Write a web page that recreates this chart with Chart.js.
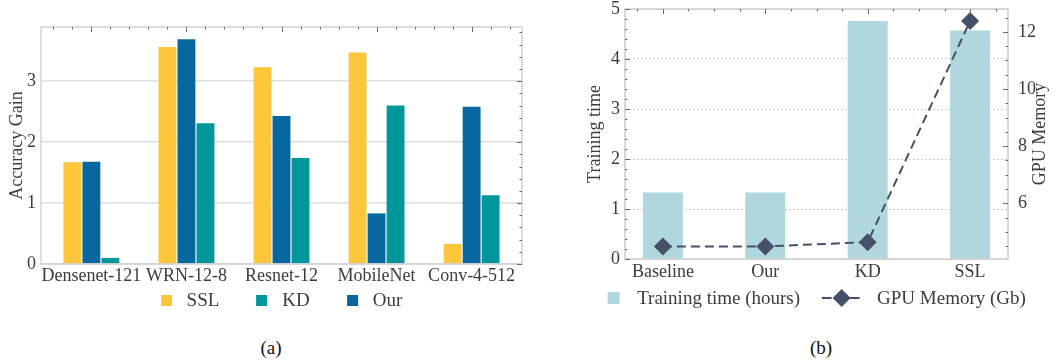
<!DOCTYPE html>
<html>
<head>
<meta charset="utf-8">
<script src="https://cdn.jsdelivr.net/npm/chart.js@4.4.1/dist/chart.umd.min.js"></script>
<style>
  body { margin: 0; background: #fff; width: 1058px; height: 360px; position: relative; overflow: hidden; font-family: "Liberation Serif", serif; }
  .panel { position: absolute; top: 0; height: 325px; }
  #panelA { left: 0; width: 530px; }
  #panelB { left: 530px; width: 528px; }
  .legend { position: absolute; display: flex; align-items: center; white-space: nowrap; transform: translate(-50%, -50%);
            font-size: 19px; line-height: 20px; color: #3c3c3c; }
  .legend .item { display: flex; align-items: center; }
  .legend .box { display: inline-block; }
  .cap { position: absolute; top: 338px; font-size: 19px; line-height: 20px; color: #111; transform: translateX(-50%); }
</style>
</head>
<body>
<div class="panel" id="panelA"><canvas id="accChart"></canvas></div>
<div class="panel" id="panelB"><canvas id="costChart"></canvas></div>
<div class="legend" id="legendA"></div>
<div class="legend" id="legendB"></div>
<div class="cap" style="left:271px">(a)</div>
<div class="cap" style="left:821px">(b)</div>
<script>
// (a) accuracy gain per backbone
const archNames = ["Densenet-121", "WRN-12-8", "Resnet-12", "MobileNet", "Conv-4-512"];
const sslGain = [1.67, 3.56, 3.23, 3.47, 0.33];
const ourGain = [1.68, 3.69, 2.43, 0.83, 2.58];
const kdGain = [0.10, 2.31, 1.74, 2.60, 1.13];
const legendOrderA = ["SSL", "KD", "Our"];

// (b) cost of each method
const methods = ["Baseline", "Our", "KD", "SSL"];
const trainHours = [1.33, 1.33, 4.76, 4.57];
const gpuMemory = [4.49, 4.49, 4.64, 12.38];
const legendOrderB = ["Training time (hours)", "GPU Memory (Gb)"];

Chart.defaults.font.family = "'Liberation Serif', serif";
Chart.defaults.font.size = 18;
Chart.defaults.color = "#3c3c3c";

const asPoints = values => values.map((v, i) => ({ x: i, y: v }));

// light frame round the plot area plus the small mirrored tick marks
const framePlugin = {
    id: "frame",
    afterDraw(chart, args, opts) {
        const { ctx, chartArea: a } = chart;
        ctx.save();
        ctx.strokeStyle = opts.color || "#cfcfcf";
        ctx.lineWidth = 1.5;
        ctx.strokeRect(a.left, a.top, a.right - a.left, a.bottom - a.top);
        ctx.strokeStyle = "#6a6a6a";
        ctx.lineWidth = 1;
        (opts.marks || []).forEach(m => {
            const sc = chart.scales[m.scale];
            for (let i = 0; ; i++) {
                const v = m.from + i * m.step;
                if (v > sc.max + 1e-9) break;
                if (v < sc.min - 1e-9) continue;
                const p = Math.round(sc.getPixelForValue(v)) + 0.5;
                ctx.beginPath();
                if (m.edge === "top") { ctx.moveTo(p, a.top); ctx.lineTo(p, a.top + m.len); }
                if (m.edge === "left") { ctx.moveTo(a.left, p); ctx.lineTo(a.left + m.len, p); }
                if (m.edge === "right") { ctx.moveTo(a.right, p); ctx.lineTo(a.right - m.len, p); }
                ctx.stroke();
            }
        });
        ctx.restore();
    }
};

// right axis title that reads bottom to top, like the left one
const sideTitlePlugin = {
    id: "sideTitle",
    afterDraw(chart, args, opts) {
        if (!opts.text) return;
        const { ctx, chartArea: a } = chart;
        const sc = chart.scales[opts.scale];
        ctx.save();
        ctx.translate(sc.right - opts.inset, (a.top + a.bottom) / 2);
        ctx.rotate(-Math.PI / 2);
        ctx.font = "18px 'Liberation Serif', serif";
        ctx.fillStyle = "#3c3c3c";
        ctx.textAlign = "center";
        ctx.textBaseline = "middle";
        ctx.fillText(opts.text, 0, 0);
        ctx.restore();
    }
};

function buildLegend(chart, el, order, cfg) {
    const area = chart.chartArea;
    const panel = chart.canvas.parentNode;
    el.innerHTML = order.map((label, i) => {
        const ds = chart.data.datasets.find(d => d.label === label);
        let icon;
        if (ds.type === "line") {
            icon = '<svg class="box" width="40" height="20" style="margin-right:' + cfg.lineGap + 'px">' +
                '<line x1="0" y1="10" x2="40" y2="10" stroke="' + ds.borderColor + '" stroke-width="2" stroke-dasharray="10 4"/>' +
                '<path d="M20 1 L29 10 L20 19 L11 10 Z" fill="' + ds.borderColor + '"/></svg>';
        } else {
            icon = '<span class="box" style="width:' + cfg.box + 'px;height:' + cfg.box + 'px;background:' +
                ds.backgroundColor + ';margin-right:' + cfg.boxGap + 'px"></span>';
        }
        return '<span class="item" style="margin-left:' + (i ? cfg.itemGap : 0) + 'px">' + icon + label + '</span>';
    }).join("");
    el.style.left = (panel.offsetLeft + (area.left + area.right) / 2) + "px";
    el.style.top = cfg.y + "px";
}

const accChart = new Chart(document.getElementById("accChart"), {
    type: "bar",
    data: {
        datasets: [
            { label: "SSL", data: asPoints(sslGain), backgroundColor: "#fec73b" },
            { label: "Our", data: asPoints(ourGain), backgroundColor: "#07679f" },
            { label: "KD", data: asPoints(kdGain), backgroundColor: "#00979a" }
        ]
    },
    options: {
        responsive: true,
        maintainAspectRatio: false,
        animation: false,
        layout: { padding: { left: 2, right: 8, top: 27, bottom: 0 } },
        datasets: { bar: { categoryPercentage: 0.6, barPercentage: 0.94, borderWidth: 0 } },
        plugins: {
            legend: { display: false },
            tooltip: { enabled: false },
            frame: {
                color: "#d2d2d2",
                marks: [
                    { scale: "x", edge: "top", from: 0, step: 1, len: 5 },
                    { scale: "x", edge: "top", from: -0.4, step: 0.2, len: 2.5 },
                    { scale: "y", edge: "right", from: 0, step: 1, len: 5 },
                    { scale: "y", edge: "right", from: 0, step: 0.2, len: 2.5 }
                ]
            }
        },
        scales: {
            x: {
                type: "linear",
                offset: false,
                min: -0.53,
                max: 4.53,
                afterBuildTicks: s => { s.ticks = archNames.map((_, i) => ({ value: i })); },
                ticks: { callback: v => archNames[v], padding: -7, autoSkip: false, maxRotation: 0 },
                grid: { display: false, offset: false },
                border: { display: false },
                afterFit: s => { s.height = 61; s.paddingLeft = 0; s.paddingRight = 0; }
            },
            y: {
                min: 0,
                max: 3.89,
                ticks: { stepSize: 1, padding: 5, includeBounds: false },
                grid: { color: "#dedede", lineWidth: 1.5, drawTicks: false },
                border: { display: false },
                title: { display: true, text: "Accuracy Gain", padding: { top: 4, bottom: 0 } },
                afterFit: s => { s.width = 39; }
            }
        }
    },
    plugins: [framePlugin]
});
buildLegend(accChart, document.getElementById("legendA"), legendOrderA,
    { box: 11, boxGap: 15, itemGap: 37, lineGap: 15, y: 300 });

const costChart = new Chart(document.getElementById("costChart"), {
    type: "bar",
    data: {
        datasets: [
            {
                type: "line",
                label: "GPU Memory (Gb)",
                data: asPoints(gpuMemory),
                yAxisID: "y2",
                borderColor: "#475069",
                backgroundColor: "#475069",
                borderWidth: 2,
                borderDash: [9, 5],
                pointStyle: "rectRot",
                pointRadius: 9,
                pointBorderWidth: 0,
                order: 0
            },
            {
                label: "Training time (hours)",
                data: asPoints(trainHours),
                yAxisID: "y",
                backgroundColor: "#b0d7dd",
                categoryPercentage: 0.39,
                barPercentage: 1,
                order: 1
            }
        ]
    },
    options: {
        responsive: true,
        maintainAspectRatio: false,
        animation: false,
        layout: { padding: { left: 50, right: 0, top: 7, bottom: 0 } },
        plugins: {
            legend: { display: false },
            tooltip: { enabled: false },
            sideTitle: { text: "GPU Memory", scale: "y2", inset: 18 },
            frame: {
                color: "#cccccc",
                marks: [
                    { scale: "x", edge: "top", from: 0, step: 1, len: 5 },
                    { scale: "x", edge: "top", from: -0.25, step: 0.25, len: 2.5 },
                    { scale: "y", edge: "left", from: 0, step: 1, len: 5 },
                    { scale: "y", edge: "left", from: 0, step: 0.2, len: 2.5 },
                    { scale: "y2", edge: "right", from: 6, step: 2, len: 5 },
                    { scale: "y2", edge: "right", from: 4.5, step: 0.5, len: 2.5 }
                ]
            }
        },
        scales: {
            x: {
                type: "linear",
                offset: false,
                min: -0.37,
                max: 3.37,
                afterBuildTicks: s => { s.ticks = methods.map((_, i) => ({ value: i })); },
                ticks: { callback: v => methods[v], padding: -6, autoSkip: false, maxRotation: 0 },
                grid: { display: false, offset: false },
                border: { display: false },
                afterFit: s => { s.height = 66; s.paddingLeft = 0; s.paddingRight = 0; }
            },
            y: {
                position: "left",
                min: 0,
                max: 5,
                ticks: { stepSize: 1, padding: 5, includeBounds: false },
                grid: { color: "#cfcfcf", lineWidth: 1, drawTicks: false },
                border: { display: false, dash: [2, 2] },
                title: { display: true, text: "Training time", padding: { top: 4, bottom: 0 } },
                afterFit: s => { s.width = 45; s.paddingTop = 0; s.paddingBottom = 0; }
            },
            y2: {
                position: "right",
                min: 4.05,
                max: 12.8,
                afterBuildTicks: s => { s.ticks = [6, 8, 10, 12].map(v => ({ value: v })); },
                ticks: { padding: 10 },
                grid: { display: false, drawTicks: false },
                border: { display: false },
                afterFit: s => { s.width = 50; s.paddingTop = 0; s.paddingBottom = 0; }
            }
        }
    },
    plugins: [framePlugin, sideTitlePlugin]
});
buildLegend(costChart, document.getElementById("legendB"), legendOrderB,
    { box: 12, boxGap: 18, itemGap: 22, lineGap: 15, y: 298 });
</script>
</body>
</html>
